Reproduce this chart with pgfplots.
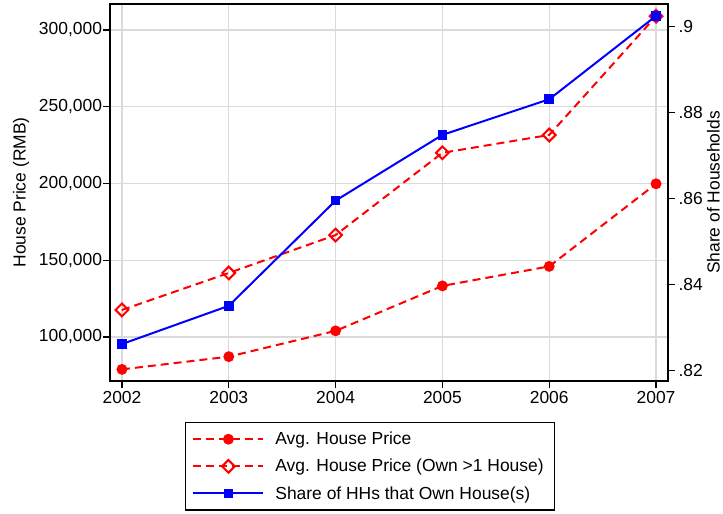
\documentclass[border=0pt]{standalone}
\usepackage{fontspec}
\setmainfont{Liberation Sans}
\usepackage{pgfplots}
\pgfplotsset{compat=1.18}
\definecolor{gridgray}{RGB}{218,218,218}
\begin{document}
\begin{tikzpicture}[x=1bp,y=1bp,font=\fontsize{17.5}{21}\selectfont]
\path[use as bounding box] (-110,-133) rectangle (613,381);
\begin{axis}[
  at={(0,0)}, anchor=south west,
  scale only axis, width=558bp, height=377bp,
  xmin=2001.888, xmax=2007.112,
  ymin=71336, ymax=316938,
  xtick={2002,2003,2004,2005,2006,2007},
  xticklabels={2002,2003,2004,2005,2006,2007},
  ytick={100000,150000,200000,250000,300000},
  scaled y ticks=false,
  yticklabel style={xshift=2.5bp, /pgf/number format/fixed, /pgf/number format/1000 sep={,}, /pgf/number format/assume math mode=true},
  grid=major, major grid style={gridgray, line width=1.3bp},
  axis line style={line width=1.5bp},
  tick style={black, line width=1.3bp},
  major tick length=7bp, tick align=outside,
  xtick pos=bottom, ytick pos=left,
  ylabel={House Price (RMB)},
  ylabel style={at={(axis description cs:-0.1595,0.5)}, anchor=center},
  legend style={at={(rel axis cs:0.466,-0.109)}, anchor=north, draw=black, line width=1.2bp,
    inner xsep=7bp, inner ysep=7.5bp, row sep=9bp, cells={anchor=west},
    /tikz/every odd column/.append style={column sep=9bp}},
  legend image code/.code={\draw[mark repeat=2,mark phase=2,#1] plot coordinates {(0bp,0bp) (35bp,0bp) (70bp,0bp)};},
]
\addplot[forget plot, red, line width=2bp, dash pattern=on 8bp off 5bp, mark=*, mark size=4.4bp, mark options={solid}]
  coordinates {(2002,78900)(2003,87200)(2004,104000)(2005,133300)(2006,146000)(2007,199800)};
\addplot[forget plot, red, line width=2bp, dash pattern=on 8bp off 5bp, mark=square, mark size=4.5bp, mark options={solid, rotate=45, fill=white}]
  coordinates {(2002,117600)(2003,141700)(2004,166400)(2005,220000)(2006,231600)(2007,309000)};
\addlegendimage{red, line width=2bp, dash pattern=on 8bp off 5bp, mark=*, mark size=4.4bp, mark options={solid}}
\addlegendentry{Avg. House Price}
\addlegendimage{red, line width=2bp, dash pattern=on 8bp off 5bp, mark=square, mark size=4.5bp, mark options={solid, rotate=45, fill=white}}
\addlegendentry{Avg. House Price (Own >1 House)\hspace*{2bp}}
\addlegendimage{blue, line width=2bp, solid, mark=square*, mark size=3.8bp}
\addlegendentry{Share of HHs that Own House(s)}
\end{axis}
\begin{axis}[
  at={(0,0)}, anchor=south west,
  scale only axis, width=558bp, height=377bp,
  xmin=2001.888, xmax=2007.112,
  ymin=0.8175, ymax=0.90528,
  hide x axis, axis y line*=right,
  ytick={0.82,0.84,0.86,0.88,0.9},
  yticklabels={.82,.84,.86,.88,.9},
  axis line style={line width=1.5bp},
  tick style={black, line width=1.3bp},
  major tick length=7bp, tick align=outside,
  ylabel={Share of Households},
  ylabel style={at={(axis description cs:1.0815,0.5)}, anchor=center, rotate=0},
]
\addplot[blue, line width=2bp, mark=square*, mark size=3.8bp]
  coordinates {(2002,0.8261)(2003,0.835)(2004,0.8595)(2005,0.8748)(2006,0.8831)(2007,0.9025)};
\end{axis}
\end{tikzpicture}
\end{document}
